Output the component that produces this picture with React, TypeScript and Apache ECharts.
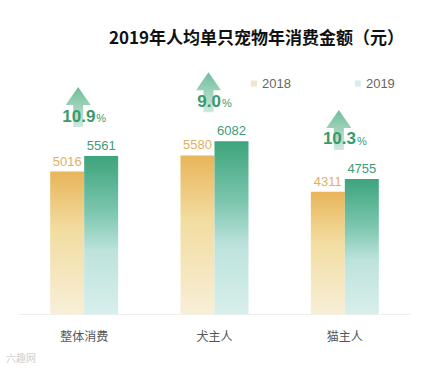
import React, { useEffect, useRef } from "react";
import * as echarts from "echarts";

const categories = ["整体消费", "犬主人", "猫主人"];
const values2018 = [5016, 5580, 4311];
const values2019 = [5561, 6082, 4755];
const growthLabels = ["10.9", "9.0", "10.3"];
const seriesNames = ["2018", "2019"];
const titleText = "2019年人均单只宠物年消费金额（元）";

const CJK = '"Noto Sans CJK SC", sans-serif';
const NUM = '"Liberation Sans", Arial, sans-serif';

export default function App() {
  const ref = useRef<HTMLDivElement>(null);
  useEffect(() => {
    if (!ref.current) return;
    const chart = echarts.init(ref.current, null, { renderer: "svg" });
    const grad2018 = new echarts.graphic.LinearGradient(0, 0, 0, 1, [
      { offset: 0, color: "#e8b55a" },
      { offset: 0.4, color: "#f2dc9f" },
      { offset: 1, color: "#f7efd8" },
    ]);
    const grad2019 = new echarts.graphic.LinearGradient(0, 0, 0, 1, [
      { offset: 0, color: "#3da47c" },
      { offset: 0.35, color: "#7cc6ae" },
      { offset: 0.6, color: "#bde3dc" },
      { offset: 1, color: "#d8efec" },
    ]);
    chart.setOption({
      animation: false,
      backgroundColor: "#ffffff",
      title: {
        text: titleText,
        left: 104,
        top: 23,
        textStyle: { fontFamily: CJK, fontSize: 17, fontWeight: "bold", color: "#111" },
      },
      legend: {
        left: 246,
        top: 72,
        itemWidth: 6,
        itemHeight: 6,
        itemGap: 64,
        icon: "rect",
        textStyle: { fontFamily: NUM, fontSize: 13, color: "#666", padding: [0, 0, 0, 0] },
        data: [
          { name: seriesNames[0], itemStyle: { color: "#efe6cc" } },
          { name: seriesNames[1], itemStyle: { color: "#d9ebe6" } },
        ],
      },
      grid: { left: 19, right: 20, top: 115, bottom: 61.5 },
      xAxis: {
        type: "category",
        data: categories,
        axisLine: { lineStyle: { color: "#eeeeee" } },
        axisTick: { show: false },
        axisLabel: { margin: 15, fontFamily: CJK, fontSize: 12, color: "#555" },
      },
      yAxis: {
        type: "value",
        min: 0,
        max: 7000,
        show: false,
        splitLine: { show: false },
      },
      series: [
        {
          name: seriesNames[0],
          type: "bar",
          data: values2018,
          barWidth: 34,
          barGap: "0%",
          itemStyle: { color: grad2018 },
          label: {
            show: true,
            position: "top",
            distance: 4,
            fontFamily: NUM,
            fontSize: 13,
            color: "#e2b062",
          },
        },
        {
          name: seriesNames[1],
          type: "bar",
          data: values2019,
          barWidth: 34,
          barGap: "0%",
          itemStyle: { color: grad2019 },
          label: {
            show: true,
            position: "top",
            distance: 4,
            fontFamily: NUM,
            fontSize: 13,
            color: "#3f9a78",
          },
        },
      ],
    });

    const graphics: any[] = [];
    categories.forEach((c, i) => {
      const p = chart.convertToPixel({ seriesIndex: 1 }, [i, values2019[i]]) as number[];
      const center = chart.convertToPixel({ xAxisIndex: 0 }, c) as number;
      const ax = center - 6;
      const tipY = p[1] - 69;
      graphics.push({
        type: "polygon",
        shape: {
          points: [
            [ax, tipY],
            [ax + 12.5, tipY + 18],
            [ax + 5, tipY + 18],
            [ax + 5, tipY + 40],
            [ax - 5, tipY + 40],
            [ax - 5, tipY + 18],
            [ax - 12.5, tipY + 18],
          ],
        },
        style: {
          fill: new echarts.graphic.LinearGradient(0, 0, 0, 1, [
            { offset: 0, color: "#6fbd99" },
            { offset: 1, color: "#cfe9de" },
          ]),
        },
        z: 10,
      });
      graphics.push({
        type: "text",
        x: center,
        y: tipY + 29,
        style: {
          text: `{n|${growthLabels[i]}}{p|%}`,
          align: "center",
          verticalAlign: "middle",
          rich: {
            n: { fontFamily: NUM, fontSize: 17, fontWeight: "bold", fill: "#3a9a6c", color: "#3a9a6c" },
            p: { fontFamily: NUM, fontSize: 11, fill: "#3a9a6c", color: "#3a9a6c", padding: [4, 0, 0, 1] },
          },
        },
        z: 11,
      });
    });
    graphics.push({
      type: "text",
      left: 6,
      top: 352,
      style: {
        text: "六趣网",
        fontFamily: CJK,
        fontSize: 10,
        fill: "#d0d0d0",
      },
    });
    chart.setOption({ graphic: graphics });
    return () => chart.dispose();
  }, []);
  return <div ref={ref} style={{ width: 430, height: 376, position: "absolute", left: 0, top: 0 }} />;
}
